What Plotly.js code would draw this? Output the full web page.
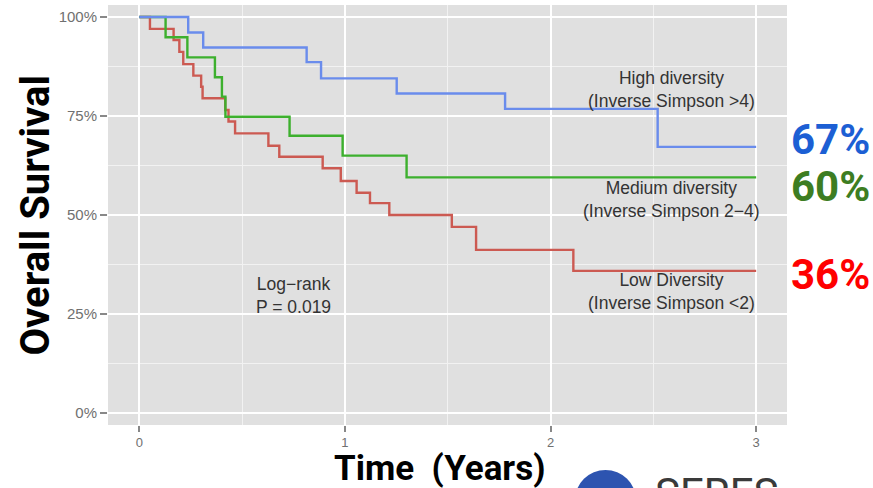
<!DOCTYPE html>
<html>
<head>
<meta charset="utf-8">
<script src="https://cdn.plot.ly/plotly-3.0.1.min.js"></script>
<style>html,body{margin:0;padding:0;background:#fff;}#chart{width:873px;height:488px;}</style>
</head>
<body>
<div id="chart"></div>
<script>
// Kaplan-Meier step data (time in years, survival fraction)
const highTime = [0, 0.238, 0.311, 0.814, 0.884, 1.252, 1.779, 2.521, 3.0];
const highSurv = [1, 0.961, 0.923, 0.886, 0.845, 0.807, 0.768, 0.672, 0.672];

const medTime = [0, 0.128, 0.234, 0.368, 0.402, 0.419, 0.731, 0.989, 1.30, 3.0];
const medSurv = [1, 0.949, 0.898, 0.848, 0.799, 0.748, 0.700, 0.650, 0.595, 0.595];

const lowTime = [0, 0.052, 0.167, 0.195, 0.214, 0.263, 0.301, 0.308, 0.418, 0.434, 0.466, 0.628, 0.681, 0.892, 0.980, 1.057, 1.122, 1.216, 1.52, 1.638, 2.111, 3.0];
const lowSurv = [1, 0.970, 0.942, 0.912, 0.881, 0.852, 0.824, 0.795, 0.765, 0.736, 0.706, 0.675, 0.647, 0.618, 0.586, 0.556, 0.530, 0.500, 0.470, 0.412, 0.359, 0.359];

const xTicks = [0, 1, 2, 3];
const yTicks = [0, 0.25, 0.5, 0.75, 1];
const groupLabels = ["High diversity", "Medium diversity", "Low Diversity"];
const groupSubLabels = ["(Inverse Simpson >4)", "(Inverse Simpson 2\u22124)", "(Inverse Simpson <2)"];
const finalPct = ["67%", "60%", "36%"];

const lineColors = ["#6a8cec", "#3db02e", "#cc5a52"];
const pctColors = ["#1c5fd4", "#3d7d22", "#ff0000"];

function stepTrace(x, y, color, name) {
  return {x: x, y: y, type: "scatter", mode: "lines", name: name,
    line: {shape: "hv", color: color, width: 2.4}, hoverinfo: "skip"};
}

const data = [
  stepTrace(lowTime, lowSurv, lineColors[2], groupLabels[2]),
  stepTrace(medTime, medSurv, lineColors[1], groupLabels[1]),
  stepTrace(highTime, highSurv, lineColors[0], groupLabels[0])
];

const labelFont = {family: "Liberation Sans, Arial, sans-serif", size: 17.5, color: "#333"};
function ann(text, x, y, font, extra) {
  return Object.assign({text: text, x: x, y: y, xref: "x", yref: "y", showarrow: false,
    xanchor: "center", yanchor: "middle", font: font}, extra || {});
}
function pann(text, x, y, font, extra) {
  return Object.assign({text: text, x: x, y: y, xref: "paper", yref: "paper", showarrow: false,
    xanchor: "center", yanchor: "middle", font: font}, extra || {});
}

const annotations = [
  ann(groupLabels[0] + "<br>" + groupSubLabels[0], 2.586, 0.817, labelFont),
  ann(groupLabels[1] + "<br>" + groupSubLabels[1], 2.586, 0.540, labelFont),
  ann(groupLabels[2] + "<br>" + groupSubLabels[2], 2.586, 0.308, labelFont),
  ann("Log\u2212rank<br>P = 0.019", 0.748, 0.2975, labelFont),
  pann(finalPct[0], 1.0648, 0.679, {family: "Roboto, sans-serif", size: 42, color: pctColors[0], weight: 700}),
  pann(finalPct[1], 1.0648, 0.567, {family: "Roboto, sans-serif", size: 42, color: pctColors[1], weight: 700}),
  pann(finalPct[2], 1.0648, 0.3595, {family: "Roboto, sans-serif", size: 42, color: pctColors[2], weight: 700}),
  pann("Overall Survival", -0.1075, 0.4988, {family: "Roboto, sans-serif", size: 40, color: "#000", weight: 700}, {textangle: -90}),
  pann("Time\u00a0\u00a0(Years)", 0.488, -0.1035, {family: "Roboto, sans-serif", size: 35, color: "#000", weight: 700}),
  pann("SERES", 0.8026, -0.100, {family: "Roboto, sans-serif", size: 42, color: "#3a3a3a"}, {xanchor: "left", yanchor: "top"})
];

const layout = {
  width: 873, height: 488,
  margin: {l: 108, r: 86, t: 5, b: 63, pad: 0},
  paper_bgcolor: "#ffffff",
  plot_bgcolor: "#e0e0e0",
  showlegend: false,
  xaxis: {
    range: [-0.152, 3.15], tickvals: xTicks, ticktext: xTicks.map(String),
    showgrid: true, gridcolor: "#ffffff", gridwidth: 2, zeroline: false, showline: false,
    ticks: "outside", ticklen: 6, tickwidth: 2, tickcolor: "#888", ticklabelstandoff: -1,
    tickfont: {family: "Liberation Sans, Arial, sans-serif", size: 13, color: "#707070"},
    minor: {tickvals: [0.5, 1.5, 2.5], showgrid: true, gridcolor: "#f2f2f2", gridwidth: 1, ticks: ""},
    fixedrange: true
  },
  yaxis: {
    range: [-0.0303, 1.0303], tickvals: yTicks, tickformat: ".0%",
    showgrid: true, gridcolor: "#ffffff", gridwidth: 2, zeroline: false, showline: false,
    ticks: "outside", ticklen: 7, tickwidth: 2, tickcolor: "#888",
    tickfont: {family: "Liberation Sans, Arial, sans-serif", size: 15, color: "#707070"},
    minor: {tickvals: [0.125, 0.375, 0.625, 0.875], showgrid: true, gridcolor: "#f2f2f2", gridwidth: 1, ticks: ""},
    fixedrange: true
  },
  annotations: annotations,
  shapes: [
    {type: "circle", xref: "paper", yref: "paper", x0: 0.6878, x1: 0.7776, y0: -0.25, y1: -0.107,
      fillcolor: "#2d54b0", line: {width: 0}, layer: "above"}
  ]
};

Plotly.newPlot("chart", data, layout, {staticPlot: true, displayModeBar: false});
</script>
</body>
</html>
